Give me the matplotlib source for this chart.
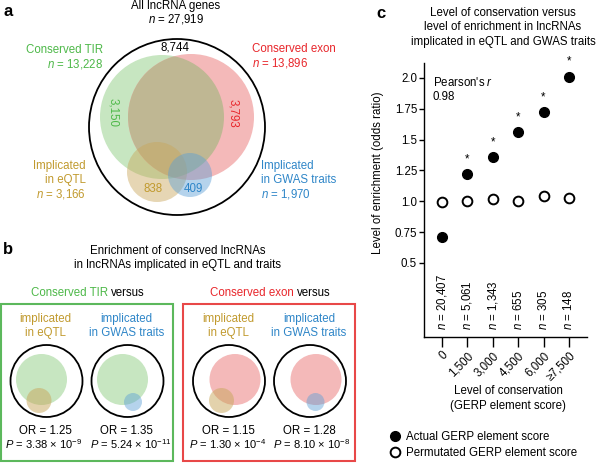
import matplotlib
matplotlib.use("Agg")
import matplotlib.pyplot as plt
from matplotlib.patches import Circle, Rectangle

plt.rcParams['font.family'] = ['Liberation Sans', 'DejaVu Sans']
plt.rcParams['mathtext.fontset'] = 'custom'
plt.rcParams['mathtext.rm'] = 'Liberation Sans'
plt.rcParams['mathtext.it'] = 'Liberation Sans:italic'
plt.rcParams['mathtext.sf'] = 'Liberation Sans'

# ---- data ----
total_n = 27919
tir_n = 13228
exon_n = 13896
eqtl_n = 3166
gwas_n = 1970
shared_tir_exon = 8744
tir_only = 3150
exon_only = 3793
eqtl_count = 838
gwas_count = 409

# panel b: conserved set vs implicated set
b_sets = ['Conserved TIR', 'Conserved TIR', 'Conserved exon', 'Conserved exon']
b_targets = ['eQTL', 'GWAS', 'eQTL', 'GWAS']
b_or = [1.25, 1.35, 1.15, 1.28]
b_p_mant = ['3.38', '5.24', '1.30', '8.10']
b_p_exp = [-9, -11, -4, -8]

# panel c
gerp_labels = ['0', '1,500', '3,000', '4,500', '6,000', '\u22657,500']
gerp_n = ['20,407', '5,061', '1,343', '655', '305', '148']
actual_or = [0.71, 1.22, 1.36, 1.56, 1.72, 2.01]
permuted_or = [0.99, 1.00, 1.02, 1.00, 1.04, 1.03]
significant = [False, True, True, True, True, True]
pearson_r = 0.98

# ---- colours ----
GREEN_FILL = '#c7e6c1'
RED_FILL = '#f4b9b9'
OLIVE_FILL = '#bfb793'
EQTL_FILL = '#c8a65a'
GWAS_FILL = '#5b9fd6'
GREEN_TXT = '#4db848'
RED_TXT = '#e8262b'
GOLD_TXT = '#c19a2e'
BLUE_TXT = '#2f86c8'
FS = 8.3

fig = plt.figure(figsize=(6, 4.63), dpi=100)

# overlay in pixel coordinates for panels a and b
ov = fig.add_axes([0, 0, 1, 1])
ov.set_xlim(0, 600)
ov.set_ylim(463, 0)
ov.axis('off')


def txt(x, y, s, ha='center', color='black', size=FS, **kw):
    ov.text(x, y, s, ha=ha, va='center', color=color, fontsize=size, **kw)


# ---- panel a ----
txt(3, 12, 'a', ha='left', size=12, weight='bold')
txt(176, 6, 'All lncRNA genes')
txt(176, 19, '$n$ = {:,}'.format(total_n))

green = Circle((162, 117), 62, fc=GREEN_FILL, ec='none', zorder=1)
red = Circle((191, 117), 63, fc=RED_FILL, ec='none', zorder=1)
ov.add_patch(green)
ov.add_patch(red)
overlap = Circle((191, 117), 63, fc=OLIVE_FILL, ec='none', zorder=2)
ov.add_patch(overlap)
overlap.set_clip_path(green)
ov.add_patch(Circle((157, 172), 30, fc=EQTL_FILL, alpha=0.45, ec='none', zorder=3))
ov.add_patch(Circle((190, 175), 22, fc=GWAS_FILL, alpha=0.45, ec='none', zorder=4))
ov.add_patch(Circle((177, 127), 88, fill=False, ec='black', lw=1.3, zorder=5))

txt(103, 50, 'Conserved TIR', ha='right', color=GREEN_TXT)
txt(103, 64, '$n$ = {:,}'.format(tir_n), ha='right', color=GREEN_TXT)
txt(252, 49, 'Conserved exon', ha='left', color=RED_TXT)
txt(252, 63, '$n$ = {:,}'.format(exon_n), ha='left', color=RED_TXT)
txt(86, 166, 'Implicated', ha='right', color=GOLD_TXT)
txt(86, 180, 'in eQTL', ha='right', color=GOLD_TXT)
txt(86, 194, '$n$ = {:,}'.format(eqtl_n), ha='right', color=GOLD_TXT)
txt(261, 166, 'Implicated', ha='left', color=BLUE_TXT)
txt(261, 180, 'in GWAS traits', ha='left', color=BLUE_TXT)
txt(261, 194, '$n$ = {:,}'.format(gwas_n), ha='left', color=BLUE_TXT)

txt(175, 48, '{:,}'.format(shared_tir_exon), zorder=6)
txt(113, 113, '{:,}'.format(tir_only), color=GREEN_TXT, rotation=-90, zorder=6)
txt(233, 113, '{:,}'.format(exon_only), color=RED_TXT, rotation=-90, zorder=6)
txt(153, 189, '{:,}'.format(eqtl_count), color=GOLD_TXT, zorder=6)
txt(193, 189, '{:,}'.format(gwas_count), color=BLUE_TXT, zorder=6)

# ---- panel b ----
txt(3, 249, 'b', ha='left', size=12, weight='bold')
txt(178, 251, 'Enrichment of conserved lncRNAs')
txt(178, 265, 'in lncRNAs implicated in eQTL and traits')

txt(108, 293, 'Conserved TIR', ha='right', color=GREEN_TXT)
txt(111, 293, 'versus', ha='left')
txt(294, 293, 'Conserved exon', ha='right', color=RED_TXT)
txt(297, 293, 'versus', ha='left')
ov.add_patch(Rectangle((1, 304), 172, 157, fill=False, ec='#5cb85c', lw=1.5))
ov.add_patch(Rectangle((183, 304), 172, 157, fill=False, ec='#e84848', lw=1.5))

col_x = [46.5, 127.5, 229, 310]
p_x = [44, 131, 228, 312]
for i in range(4):
    cx = col_x[i]
    tcol = GOLD_TXT if b_targets[i] == 'eQTL' else BLUE_TXT
    second = 'in eQTL' if b_targets[i] == 'eQTL' else 'in GWAS traits'
    txt(cx - 1, 319, 'implicated', color=tcol)
    txt(cx - 1, 333, second, color=tcol)
    big_fill = GREEN_FILL if b_sets[i] == 'Conserved TIR' else RED_FILL
    dx = -5 if b_sets[i] == 'Conserved TIR' else 6
    ov.add_patch(Circle((cx + dx, 379.5), 25.5, fc=big_fill, ec='none', zorder=1))
    if b_targets[i] == 'eQTL':
        ov.add_patch(Circle((cx - 7.5, 400.5), 12.5, fc=EQTL_FILL, alpha=0.5,
                            ec='none', zorder=2))
    else:
        ov.add_patch(Circle((cx + 5.5, 402), 9, fc=GWAS_FILL, alpha=0.45,
                            ec='none', zorder=2))
    ov.add_patch(Circle((cx, 381), 36, fill=False, ec='black', lw=1.3, zorder=3))
    txt(cx - 1, 431, 'OR = {:.2f}'.format(b_or[i]))
    txt(p_x[i], 444.5, r'$P$ = {} × 10$^{{{}}}$'.format(b_p_mant[i], b_p_exp[i]), size=8.0)

# ---- panel c ----
txt(376, 13, 'c', ha='left', size=12, weight='bold')
txt(503, 13, 'Level of conservation versus')
txt(503, 27, 'level of enrichment in lncRNAs')
txt(503, 42, 'implicated in eQTL and GWAS traits')

ax = fig.add_axes([424 / 600, 1 - 337 / 463, 163 / 600, 274 / 463])
ax.patch.set_alpha(0)
xs = list(range(len(gerp_labels)))
h_act, = ax.plot(xs, actual_or, 'o', color='black', ms=7,
                 label='Actual GERP element score', clip_on=False)
h_perm, = ax.plot(xs, permuted_or, 'o', mfc='white', mec='black', mew=1.4, ms=7,
                  label='Permutated GERP element score', clip_on=False)
for x, y, s in zip(xs, actual_or, significant):
    if s:
        ax.text(x, y + 0.07, '*', ha='center', va='bottom', fontsize=FS)
for x, n in zip(xs, gerp_n):
    ax.text(x, -0.045, '$n$ = ' + n, rotation=90, ha='center', va='bottom', fontsize=FS)
ax.text(0.055, 0.93, "Pearson's $r$", transform=ax.transAxes, ha='left', va='center',
        fontsize=FS)
ax.text(0.055, 0.875, '{:.2f}'.format(pearson_r), transform=ax.transAxes, ha='left',
        va='center', fontsize=FS)

ax.set_xlim(-0.71, 5.71)
ax.set_ylim(-0.1, 2.12)
ax.set_yticks([0.5, 0.75, 1.0, 1.25, 1.5, 1.75, 2.0])
ax.set_yticklabels(['0.5', '0.75', '1.0', '1.25', '1.5', '1.75', '2.0'])
ax.set_xticks(xs)
ax.set_xticklabels(gerp_labels, rotation=45, ha='right', va='top', rotation_mode='anchor')
ax.tick_params(axis='y', length=3.5, width=1, pad=1.5, labelsize=FS)
ax.tick_params(axis='x', length=7, width=1, pad=2, labelsize=FS)
for sp in ['top', 'right']:
    ax.spines[sp].set_visible(False)
for sp in ['left', 'bottom']:
    ax.spines[sp].set_linewidth(1)
ax.set_ylabel('Level of enrichment (odds ratio)', fontsize=FS)
ax.yaxis.set_label_coords(-0.245, 0.6)
ax.set_xlabel('Level of conservation\n(GERP element score)', fontsize=FS, linespacing=1.3)
ax.xaxis.set_label_coords(0.515, -0.175)
ax.xaxis.label.set_va('top')

fig.legend(handles=[h_act, h_perm], loc='upper left', bbox_to_anchor=(389 / 600, 1 - 431 / 463),
           frameon=False, fontsize=FS, handlelength=1.0, handletextpad=0.45,
           borderpad=0, borderaxespad=0, labelspacing=0.35)

fig.savefig('out.png', dpi=100)
